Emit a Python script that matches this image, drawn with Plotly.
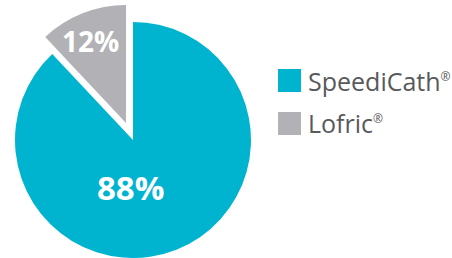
import plotly.graph_objects as go

labels = ["SpeediCath", "Lofric"]
values = [88, 12]
colors = ["#00b4d0", "#b2b2b6"]
legend_marks = ["®", "®"]

W, H = 452, 258
R = 118
# pie centres in pixels (main pie and pulled-out slice)
cx, cy = 133, 140
px_off, py_off = -7, -17

def dom(cxp, cyp):
    return dict(x=[(cxp - R) / W, (cxp + R) / W],
                y=[(H - (cyp + R)) / H, (H - (cyp - R)) / H])

fig = go.Figure()
fig.add_trace(go.Pie(
    labels=labels, values=values, sort=False, direction="clockwise", rotation=0,
    marker=dict(colors=[colors[0], "rgba(0,0,0,0)"]),
    textinfo="none", domain=dom(cx, cy), hoverinfo="skip", showlegend=False,
))
fig.add_trace(go.Pie(
    labels=labels, values=values, sort=False, direction="clockwise", rotation=0,
    marker=dict(colors=["rgba(0,0,0,0)", colors[1]]),
    textinfo="none", domain=dom(cx + px_off, cy + py_off), hoverinfo="skip",
    showlegend=False,
))

# percentage labels
total = sum(values)
label_pos = [(130, 187, 33), (90, 41, 28)]
for v, (lx, ly, fs) in zip(values, label_pos):
    fig.add_annotation(xref="paper", yref="paper", x=lx / W, y=1 - ly / H,
                       xanchor="center", yanchor="middle", showarrow=False,
                       text=f"<b>{round(100 * v / total)}%</b>",
                       font=dict(family="Open Sans", size=fs, color="white"))

# legend drawn as squares + text
leg_x0, leg_y0, leg_dy, sq = 278, 69, 43, 23
for i, (lab, col, mk) in enumerate(zip(labels, colors, legend_marks)):
    y_top = leg_y0 + i * leg_dy
    fig.add_shape(type="rect", xref="paper", yref="paper",
                  x0=leg_x0 / W, x1=(leg_x0 + sq) / W,
                  y0=1 - (y_top + sq) / H, y1=1 - y_top / H,
                  fillcolor=col, line=dict(width=0))
    fig.add_annotation(xref="paper", yref="paper", x=(leg_x0 + sq + 5) / W,
                       y=1 - (y_top + sq / 2) / H, xanchor="left", yanchor="middle",
                       text=f"{lab}<sup><span style='font-size:12px'>{mk}</span></sup>",
                       showarrow=False,
                       font=dict(family="Open Sans", size=25, color="#58595b"))

fig.update_layout(width=W, height=H, margin=dict(l=0, r=0, t=0, b=0),
                  paper_bgcolor="white", plot_bgcolor="white")
fig.write_html("out.html", config={"displayModeBar": False},
               post_script="document.body.style.margin='0';document.body.style.overflow='hidden';")
